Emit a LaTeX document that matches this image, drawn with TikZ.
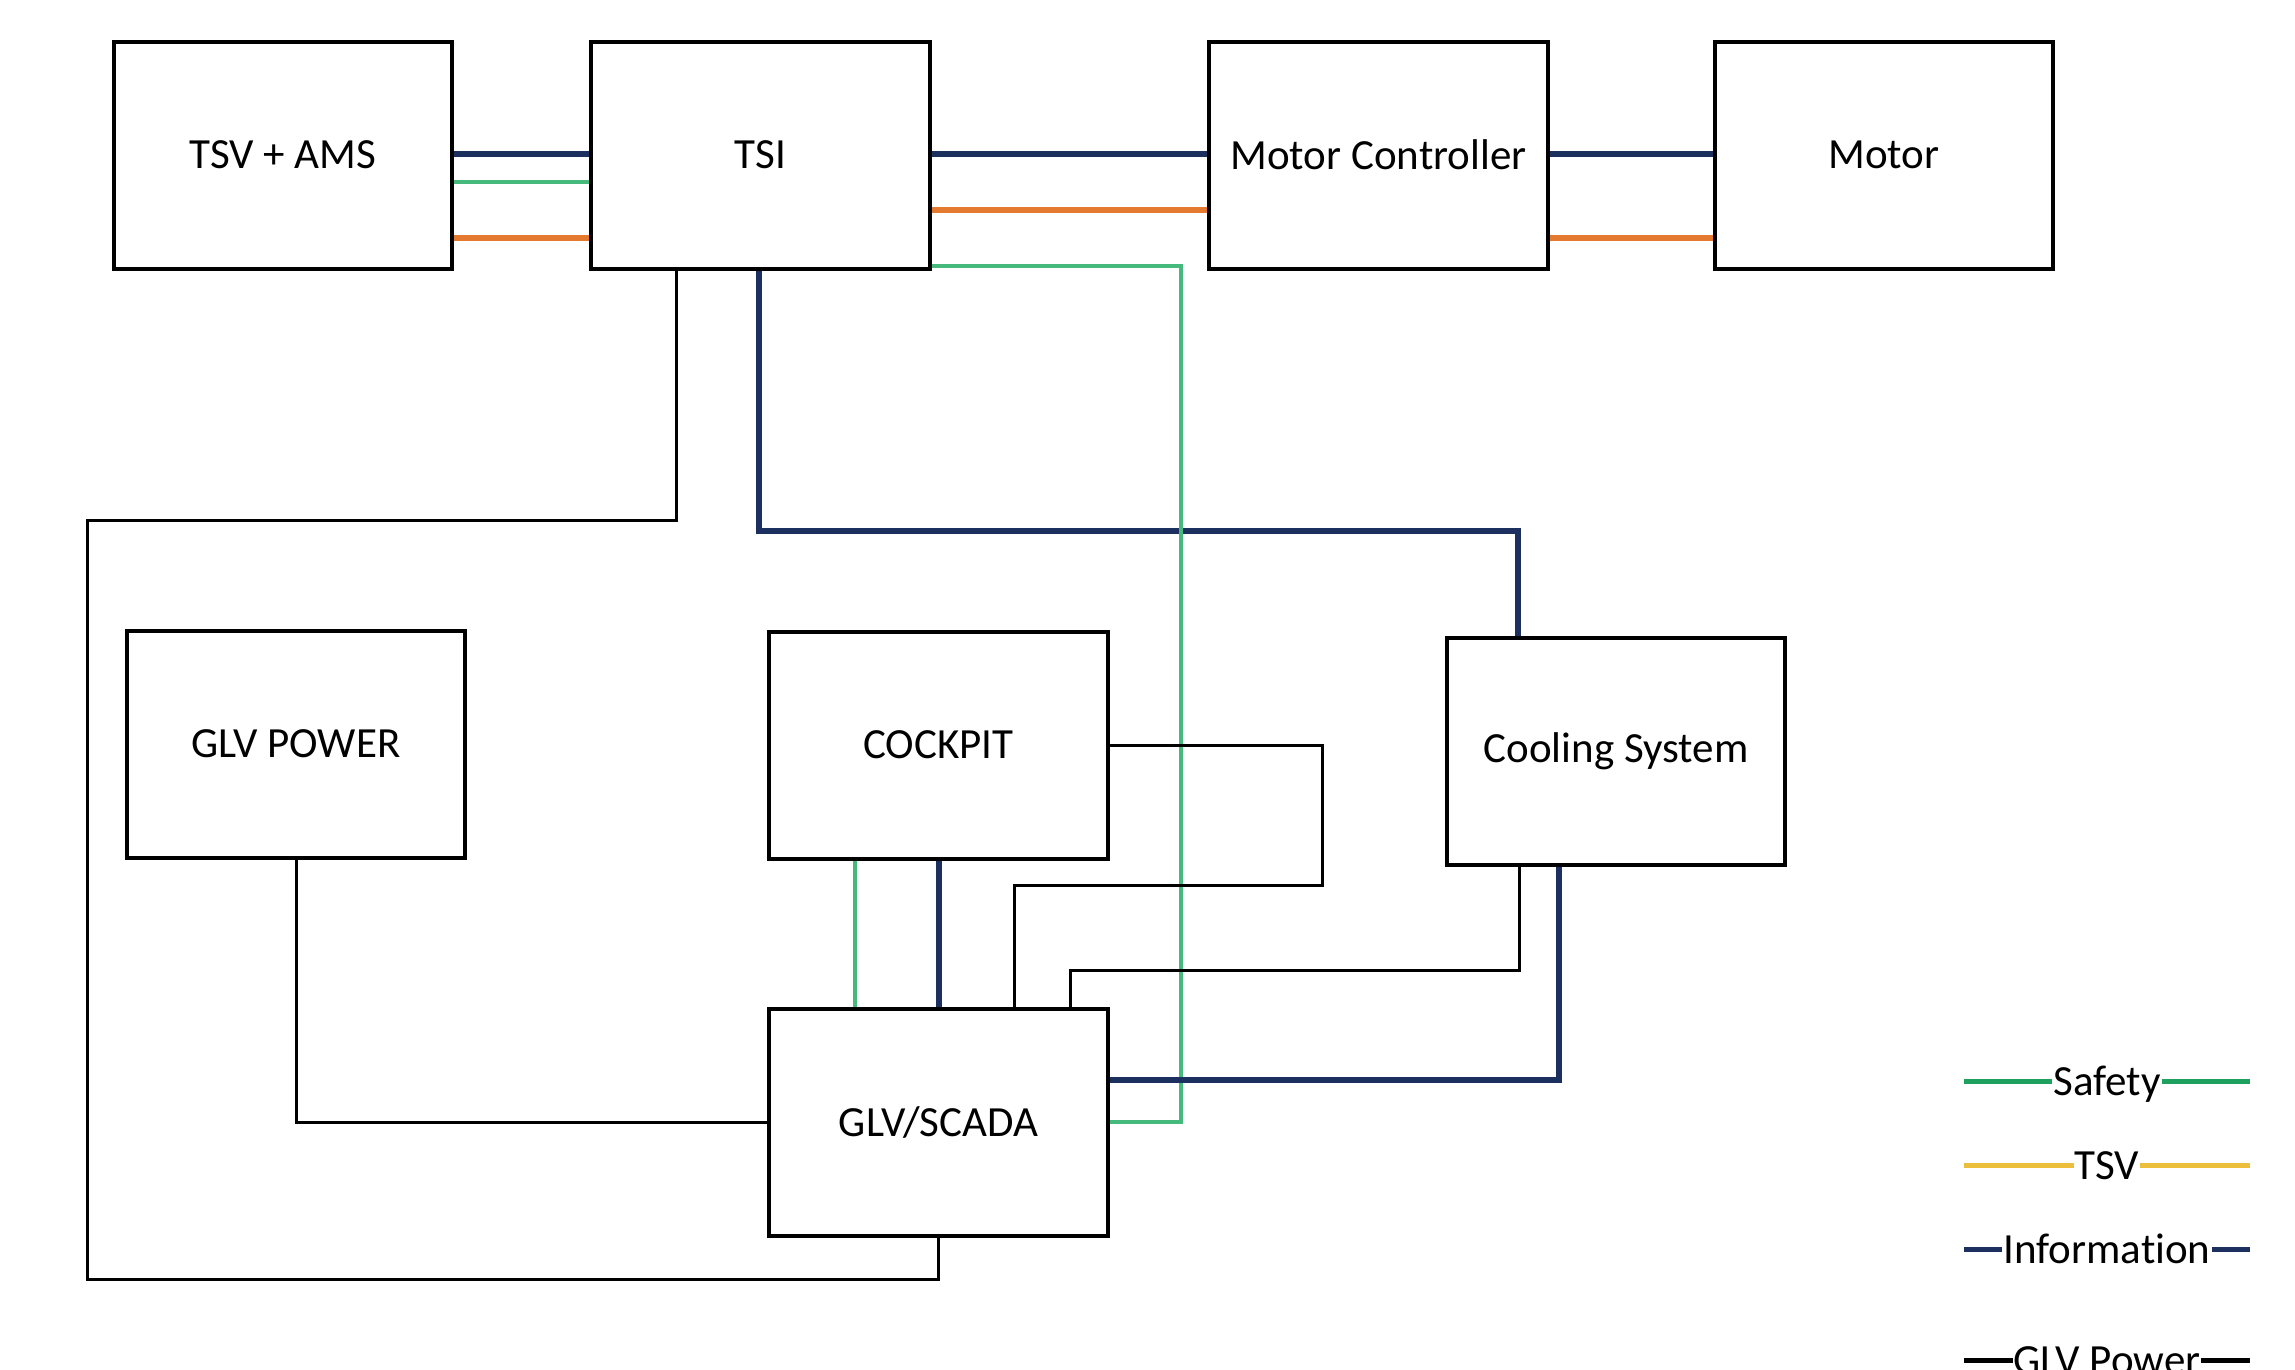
\documentclass[tikz,border=0pt]{standalone}
\usepackage{fontspec}
\setmainfont{Carlito}[Ligatures={NoCommon}]
\definecolor{infoc}{RGB}{28,48,96}
\definecolor{tsvc}{RGB}{228,122,48}
\definecolor{safec}{RGB}{70,185,125}
\definecolor{safeleg}{RGB}{30,160,95}
\definecolor{tsvleg}{RGB}{235,190,60}
\begin{document}
\begin{tikzpicture}[x=1pt,y=-1pt,
  blk/.style={draw=black,line width=2.6pt,fill=white,minimum width=337pt,minimum height=225pt,inner sep=0pt,font=\fontsize{43}{50}\selectfont},
  infoline/.style={infoc,line width=6pt},
  tsvline/.style={tsvc,line width=6pt},
  safeline/.style={safec,line width=4.5pt},
  glvline/.style={black,line width=3pt},
  legtxt/.style={fill=white,inner sep=1pt,anchor=base,font=\fontsize{43}{50}\selectfont}
]
\clip (0,0) rectangle (2295,1370);
\fill[white] (0,0) rectangle (2295,1370);

\node[blk] (tsvams) at (283,155.5) {\raisebox{2pt}{TSV + AMS}};
\node[blk] (tsi) at (760.5,155.5) {\raisebox{2pt}{TSI}};
\node[blk] (mc) at (1378.5,155.5) {\raisebox{2pt}{Motor Controller}};
\node[blk] (motor) at (1884,155.5) {\raisebox{2pt}{Motor}};
\node[blk] (glvp) at (296,744.5) {\raisebox{2pt}{GLV POWER}};
\node[blk] (cockpit) at (938.5,745.5) {\raisebox{2pt}{COCKPIT}};
\node[blk] (cooling) at (1616,751.5) {Cooling System};
\node[blk] (scada) at (938.5,1122.5) {GLV/SCADA};

% Top row links
\draw[infoline] (tsvams.east |- 0,154) -- (tsi.west |- 0,154);
\draw[safeline] (tsvams.east |- 0,182) -- (tsi.west |- 0,182);
\draw[tsvline] (tsvams.east |- 0,238) -- (tsi.west |- 0,238);
\draw[infoline] (tsi.east |- 0,154) -- (mc.west |- 0,154);
\draw[tsvline] (tsi.east |- 0,210) -- (mc.west |- 0,210);
\draw[infoline] (mc.east |- 0,154) -- (motor.west |- 0,154);
\draw[tsvline] (mc.east |- 0,238) -- (motor.west |- 0,238);

% GLV power loop from TSI to GLV/SCADA
\draw[glvline] (tsi.south -| 676,0) -- (676,520) -| (87,1279) -| (scada.south);

% Information TSI to Cooling
\draw[infoline] (tsi.south -| 759,0) |- (1518,531) -- (cooling.north -| 1518,0);

% Safety TSI to GLV/SCADA
\draw[safeline] (tsi.east |- 0,266) -| (1181,1122) -- (scada.east |- 0,1122);

% GLV POWER to GLV/SCADA
\draw[glvline] (glvp.south) |- (scada.west);

% COCKPIT to GLV/SCADA
\draw[safec,line width=3.5pt] (cockpit.south -| 855,0) -- (scada.north -| 855,0);
\draw[infoline] (cockpit.south) -- (scada.north);
\draw[glvline] (cockpit.east) -| (1322,885) -| (scada.north -| 1014,0);

% Cooling to GLV/SCADA
\draw[glvline] (cooling.south -| 1519,0) |- (1070,970) -- (scada.north -| 1070,0);
\draw[infoline] (cooling.south -| 1559,0) |- (scada.east |- 0,1080);

% redraw box outlines on top of line ends
\foreach \n in {tsvams,tsi,mc,motor,glvp,cockpit,cooling,scada}{
  \draw[line width=2.6pt] (\n.north west) rectangle (\n.south east);
}

% Legend
\coordinate (lsL) at (1964,1081); \coordinate (lsR) at (2250,1081);
\draw[safeleg,line width=5pt] (lsL) -- (lsR);
\node[legtxt] (lsafety) at (2107,1095) {Safety};
\coordinate (ltL) at (1964,1165); \coordinate (ltR) at (2250,1165);
\draw[tsvleg,line width=5pt] (ltL) -- (ltR);
\node[legtxt] (ltsv) at (2107,1179) {TSV};
\coordinate (liL) at (1964,1249); \coordinate (liR) at (2250,1249);
\draw[infoc,line width=5pt] (liL) -- (liR);
\node[legtxt] (linfo) at (2107,1263) {Information};
\coordinate (lgL) at (1964,1360); \coordinate (lgR) at (2250,1360);
\draw[black,line width=5pt] (lgL) -- (lgR);
\node[legtxt] (lglv) at (2107,1374) {GLV Power};
\end{tikzpicture}
\end{document}
